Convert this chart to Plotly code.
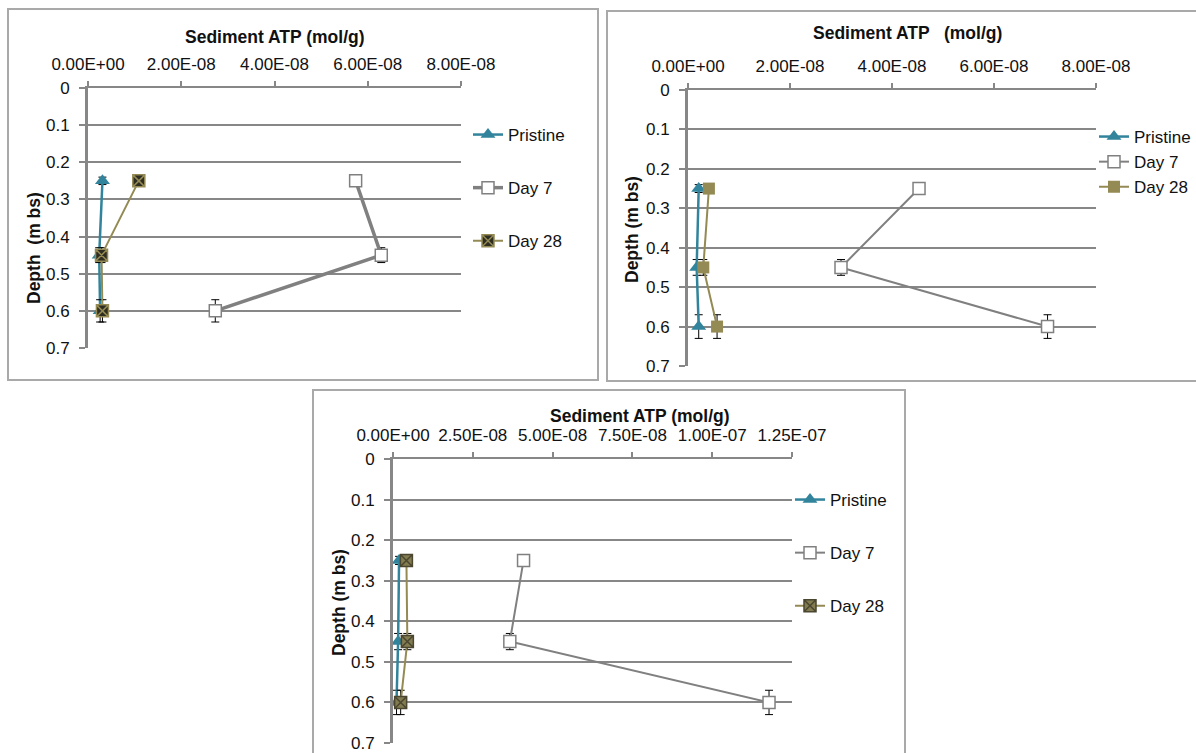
import plotly.graph_objects as go

W, H = 1196, 753

# ---------------- data ----------------
depth = [0.25, 0.45, 0.6]
depth_err = [0.01, 0.02, 0.03]
series_names = ["Pristine", "Day 7", "Day 28"]

# Panel A (top-left)
pristine_a = [3.1e-9, 2.4e-9, 2.6e-9]
day7_a = [5.74e-8, 6.29e-8, 2.73e-8]
day28_a = [1.09e-8, 2.9e-9, 3.1e-9]

# Panel B (top-right)
pristine_b = [2.1e-9, 1.7e-9, 2.1e-9]
day7_b = [4.53e-8, 3.0e-8, 7.05e-8]
day28_b = [4.1e-9, 3.0e-9, 5.7e-9]

# Panel C (bottom)
pristine_c = [1.9e-9, 1.6e-9, 1.1e-9]
day7_c = [4.09e-8, 3.66e-8, 1.178e-7]
day28_c = [4.2e-9, 4.5e-9, 2.4e-9]

x_ticks_ab = [0, 2e-8, 4e-8, 6e-8, 8e-8]
x_ticktext_ab = ["0.00E+00", "2.00E-08", "4.00E-08", "6.00E-08", "8.00E-08"]
x_ticks_c = [0, 2.5e-8, 5e-8, 7.5e-8, 1e-7, 1.25e-7]
x_ticktext_c = ["0.00E+00", "2.50E-08", "5.00E-08", "7.50E-08", "1.00E-07", "1.25E-07"]
y_ticks = [0, 0.1, 0.2, 0.3, 0.4, 0.5, 0.6, 0.7]
y_ticktext = ["0", "0.1", "0.2", "0.3", "0.4", "0.5", "0.6", "0.7"]

titles = ["Sediment ATP (mol/g)", "Sediment ATP   (mol/g)", "Sediment ATP (mol/g)"]
ytitles = ["Depth  (m bs)", "Depth (m bs)", "Depth (m bs)"]

# ---------------- style ----------------
TEAL = "#31849b"
GRAY = "#808080"
OLIVE = "#948a54"
AXC = "#878787"
FONT = "Liberation Sans, Arial, sans-serif"


def px(x):
    return x / W


def py(y):
    return 1 - y / H


fig = go.Figure()

err = dict(type="data", array=depth_err, color="black", thickness=1, width=4)


def add_panel(idx, prist, d7, d28, d7w, d28_marker):
    sfx = "" if idx == 1 else str(idx)
    xa, ya = "x" + sfx, "y" + sfx
    leg = "legend" + sfx
    fig.add_trace(go.Scatter(
        x=prist, y=depth, name=series_names[0], xaxis=xa, yaxis=ya, legend=leg,
        legendgroup=f"p{idx}", mode="lines+markers",
        line=dict(color=TEAL, width=2.5),
        marker=dict(symbol="triangle-up", size=13, color=TEAL),
        error_y=err))
    fig.add_trace(go.Scatter(
        x=d7, y=depth, name=series_names[1], xaxis=xa, yaxis=ya, legend=leg,
        legendgroup=f"d7{idx}", mode="lines+markers",
        line=dict(color=GRAY, width=d7w),
        marker=dict(symbol="square", size=12, color="white",
                    line=dict(color=GRAY, width=1.5)),
        error_y=err))
    fig.add_trace(go.Scatter(
        x=d28, y=depth, name=series_names[2], xaxis=xa, yaxis=ya, legend=leg,
        legendgroup=f"d28{idx}", mode="lines+markers",
        line=dict(color=OLIVE, width=2),
        marker=d28_marker,
        error_y=err))


add_panel(1, pristine_a, day7_a, day28_a, 3.5,
          dict(symbol="square-x", size=12, color="#2e2d22",
               line=dict(color=OLIVE, width=1.5)))
add_panel(2, pristine_b, day7_b, day28_b, 2,
          dict(symbol="square", size=12, color=OLIVE))
add_panel(3, pristine_c, day7_c, day28_c, 2,
          dict(symbol="square-x", size=12, color="#837c50",
               line=dict(color="#4a4630", width=1.5)))

# plot areas (pixel boxes): left, right, top, bottom
boxes = [(88, 461, 88, 348), (688, 1096, 90, 366), (393, 792, 459, 743)]
ranges = [[0, 8e-8], [0, 8e-8], [0, 1.25e-7]]
xt = [(x_ticks_ab, x_ticktext_ab), (x_ticks_ab, x_ticktext_ab), (x_ticks_c, x_ticktext_c)]

xtickfont = dict(family=FONT, size=17, color="#111111")
ytickfont = dict(family=FONT, size=17, color="#111111")
layout_axes = {}
for i, (l, r, t, b) in enumerate(boxes):
    sfx = "" if i == 0 else str(i + 1)
    layout_axes["xaxis" + sfx] = dict(
        domain=[px(l), px(r)], range=ranges[i], side="top",
        anchor="y" + sfx, tickvals=xt[i][0], ticktext=xt[i][1],
        showgrid=False, zeroline=False, showline=True, linecolor=AXC,
        linewidth=2, ticks="outside", ticklen=5, tickwidth=1.5, tickcolor=AXC,
        tickfont=xtickfont, ticklabelstandoff=4, automargin=False,
        fixedrange=True)
    layout_axes["yaxis" + sfx] = dict(
        domain=[py(b), py(t)], range=[0.7, 0], anchor="x" + sfx,
        tickvals=y_ticks, ticktext=y_ticktext,
        showgrid=True, gridcolor=AXC, gridwidth=1.5, zeroline=False,
        showline=True, linecolor=AXC, linewidth=3, ticks="outside",
        ticklen=6, tickwidth=1.5, tickcolor=AXC, tickfont=ytickfont,
        ticklabelstandoff=6, automargin=False, fixedrange=True)

legfont = dict(family=FONT, size=17, color="#111111")
common_leg = dict(xref="container", yref="container", xanchor="left",
                  yanchor="top", font=legfont, bgcolor="rgba(0,0,0,0)")
fig.update_layout(
    width=W, height=H, margin=dict(l=0, r=0, t=0, b=0, autoexpand=False),
    paper_bgcolor="white", plot_bgcolor="white",
    font=dict(family=FONT),
    legend=dict(x=px(468), y=py(117), tracegroupgap=28, **common_leg),
    legend2=dict(x=px(1094), y=py(119), tracegroupgap=0, **common_leg),
    legend3=dict(x=px(790), y=py(482), tracegroupgap=28, **common_leg),
    **layout_axes,
)

# panel frames
FR = "#a9a9a9"
for (x0, y0, x1, y1) in [(8, 9, 598, 380), (607, 11, 1205, 381), (313, 390, 905, 765)]:
    fig.add_shape(type="rect", xref="paper", yref="paper",
                  x0=px(x0), x1=px(x1), y0=py(y1), y1=py(y0),
                  line=dict(color=FR, width=2), fillcolor="rgba(0,0,0,0)")

# titles
title_pos = [(275, 37), (907, 33), (640, 416)]
ytitle_pos = [(34, 248), (632, 230), (339, 603)]
for i in range(3):
    fig.add_annotation(text=f"<b>{titles[i]}</b>", xref="paper", yref="paper",
                       x=px(title_pos[i][0]), y=py(title_pos[i][1]),
                       xanchor="center", yanchor="middle", showarrow=False,
                       font=dict(family=FONT, size=17.5, color="#111111"))
    fig.add_annotation(text=f"<b>{ytitles[i]}</b>", xref="paper", yref="paper",
                       x=px(ytitle_pos[i][0]), y=py(ytitle_pos[i][1]),
                       xanchor="center", yanchor="middle", showarrow=False,
                       textangle=-90,
                       font=dict(family=FONT, size=17.5, color="#111111"))

fig.write_html(
    "out.html",
    config={"displayModeBar": False},
    post_script="document.body.style.margin='0';document.body.style.overflow='hidden';",
)
